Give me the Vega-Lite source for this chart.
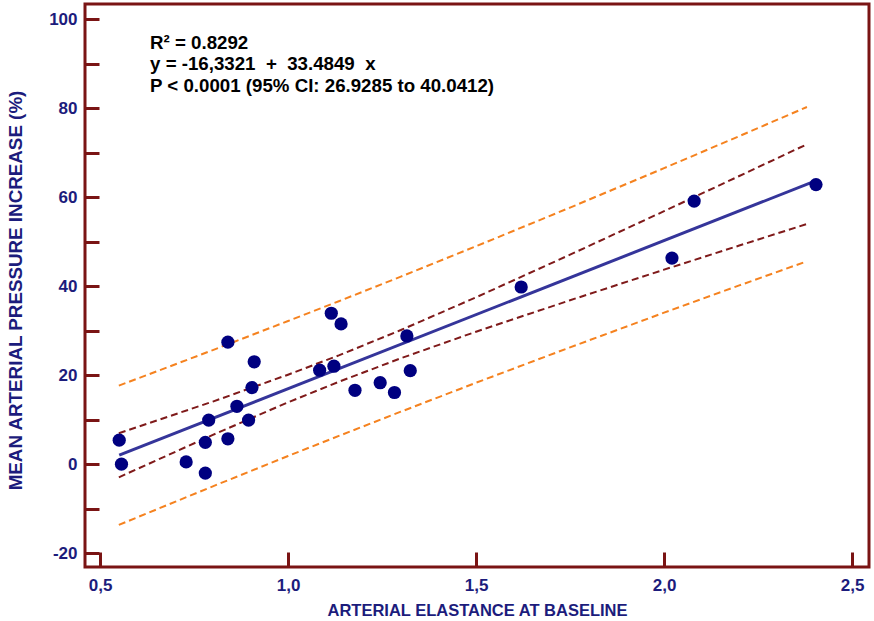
{
  "$schema": "https://vega.github.io/schema/vega-lite/v6.json",
  "width": 784,
  "height": 563,
  "autosize": "none",
  "padding": {"left": 85, "top": 4, "right": 5, "bottom": 54},
  "background": "white",
  "config": {
    "view": {"stroke": "#7a1414", "strokeWidth": 3},
    "axis": {
      "domain": false,
      "grid": false,
      "labelFont": "Liberation Sans",
      "labelFontWeight": "bold",
      "labelFontSize": 17,
      "labelColor": "#1c1c7c",
      "titleFont": "Liberation Sans",
      "titleFontWeight": "bold",
      "titleColor": "#1c1c7c",
      "tickColor": "#7a1414",
      "tickWidth": 3
    }
  },
  "datasets": {
    "points": [
      {"elastance": 0.551, "map": 5.4},
      {"elastance": 0.557, "map": 0.0},
      {"elastance": 0.729, "map": 0.5},
      {"elastance": 0.780, "map": -2.0},
      {"elastance": 0.780, "map": 4.9},
      {"elastance": 0.789, "map": 9.9},
      {"elastance": 0.840, "map": 5.7},
      {"elastance": 0.840, "map": 27.4},
      {"elastance": 0.864, "map": 13.0},
      {"elastance": 0.895, "map": 9.9},
      {"elastance": 0.904, "map": 17.2},
      {"elastance": 0.910, "map": 23.0},
      {"elastance": 1.084, "map": 21.1},
      {"elastance": 1.122, "map": 22.0},
      {"elastance": 1.115, "map": 33.9},
      {"elastance": 1.141, "map": 31.5},
      {"elastance": 1.178, "map": 16.6},
      {"elastance": 1.245, "map": 18.3},
      {"elastance": 1.283, "map": 16.1},
      {"elastance": 1.316, "map": 28.8},
      {"elastance": 1.325, "map": 21.0},
      {"elastance": 1.620, "map": 39.8},
      {"elastance": 2.021, "map": 46.3},
      {"elastance": 2.080, "map": 59.1},
      {"elastance": 2.404, "map": 62.8}
    ],
    "fit": [
      {"elastance": 0.551, "map": 2.02},
      {"elastance": 2.396, "map": 63.4}
    ],
    "bands": [
      {"band": "CI upper", "elastance": 0.55, "map": 6.95},
      {"band": "CI upper", "elastance": 0.80, "map": 14.06},
      {"band": "CI upper", "elastance": 1.00, "map": 20.10},
      {"band": "CI upper", "elastance": 1.135, "map": 24.44},
      {"band": "CI upper", "elastance": 1.30, "map": 30.13},
      {"band": "CI upper", "elastance": 1.50, "map": 37.48},
      {"band": "CI upper", "elastance": 1.75, "map": 47.06},
      {"band": "CI upper", "elastance": 2.00, "map": 56.83},
      {"band": "CI upper", "elastance": 2.20, "map": 64.73},
      {"band": "CI upper", "elastance": 2.38, "map": 71.86},
      {"band": "CI lower", "elastance": 0.55, "map": -2.95},
      {"band": "CI lower", "elastance": 0.80, "map": 6.58},
      {"band": "CI lower", "elastance": 1.00, "map": 13.90},
      {"band": "CI lower", "elastance": 1.135, "map": 18.50},
      {"band": "CI lower", "elastance": 1.30, "map": 23.79},
      {"band": "CI lower", "elastance": 1.50, "map": 29.76},
      {"band": "CI lower", "elastance": 1.75, "map": 36.82},
      {"band": "CI lower", "elastance": 2.00, "map": 43.69},
      {"band": "CI lower", "elastance": 2.20, "map": 49.11},
      {"band": "CI lower", "elastance": 2.38, "map": 53.96},
      {"band": "PI upper", "elastance": 0.55, "map": 17.64},
      {"band": "PI upper", "elastance": 0.80, "map": 25.62},
      {"band": "PI upper", "elastance": 1.00, "map": 32.16},
      {"band": "PI upper", "elastance": 1.135, "map": 36.60},
      {"band": "PI upper", "elastance": 1.30, "map": 42.13},
      {"band": "PI upper", "elastance": 1.50, "map": 48.95},
      {"band": "PI upper", "elastance": 1.75, "map": 57.64},
      {"band": "PI upper", "elastance": 2.00, "map": 66.49},
      {"band": "PI upper", "elastance": 2.20, "map": 73.69},
      {"band": "PI upper", "elastance": 2.38, "map": 80.24},
      {"band": "PI lower", "elastance": 0.55, "map": -13.64},
      {"band": "PI lower", "elastance": 0.80, "map": -4.98},
      {"band": "PI lower", "elastance": 1.00, "map": 1.84},
      {"band": "PI lower", "elastance": 1.135, "map": 6.34},
      {"band": "PI lower", "elastance": 1.30, "map": 11.79},
      {"band": "PI lower", "elastance": 1.50, "map": 18.29},
      {"band": "PI lower", "elastance": 1.75, "map": 26.24},
      {"band": "PI lower", "elastance": 2.00, "map": 34.03},
      {"band": "PI lower", "elastance": 2.20, "map": 40.15},
      {"band": "PI lower", "elastance": 2.38, "map": 45.58}
    ],
    "notes": [
      {"elastance": 0.633, "map": 93.3, "label": "R² = 0.8292"},
      {"elastance": 0.633, "map": 88.5, "label": "y = -16,3321 \u00a0+ \u00a033.4849 \u00a0x"},
      {"elastance": 0.633, "map": 83.6, "label": "P < 0.0001 (95% CI: 26.9285 to 40.0412)"}
    ]
  },
  "encoding": {
    "x": {
      "field": "elastance",
      "type": "quantitative",
      "scale": {"domain": [0.46, 2.545], "nice": false, "zero": false},
      "axis": {
        "title": "ARTERIAL ELASTANCE AT BASELINE",
        "titleFontSize": 16.5,
        "values": [0.5, 1, 1.5, 2, 2.5],
        "tickSize": -15,
        "labelPadding": 25,
        "labelExpr": "replace(format(datum.value, '.1f'), '.', ',')",
        "titleX": 392,
        "titleY": 43,
        "titleBaseline": "middle",
        "titleAlign": "center"
      }
    },
    "y": {
      "field": "map",
      "type": "quantitative",
      "scale": {"domain": [-23.1, 103.37], "nice": false, "zero": false},
      "axis": {
        "title": "MEAN ARTERIAL PRESSURE INCREASE (%)",
        "titleFontSize": 18.8,
        "values": [-20, -10, 0, 10, 20, 30, 40, 50, 60, 70, 80, 90, 100],
        "tickSize": -14,
        "labelPadding": 22,
        "labelExpr": "datum.value % 20 === 0 ? replace(format(datum.value, 'd'), '\u2212', '-') : ''",
        "titleX": -70,
        "titleY": 286,
        "titleBaseline": "middle",
        "titleAlign": "center",
        "encode": {
          "ticks": {"update": {"x2": {"signal": "datum.value % 20 === 0 ? 14 : 7"}}}
        }
      }
    }
  },
  "layer": [
    {
      "data": {"name": "bands"},
      "transform": [{"filter": "indexof(datum.band, 'PI') === 0"}],
      "mark": {"type": "line", "color": "#f5821f", "strokeWidth": 2, "strokeDash": [7, 4]},
      "encoding": {"detail": {"field": "band"}}
    },
    {
      "data": {"name": "bands"},
      "transform": [{"filter": "indexof(datum.band, 'CI') === 0"}],
      "mark": {"type": "line", "color": "#7f1a1a", "strokeWidth": 2, "strokeDash": [7, 4]},
      "encoding": {"detail": {"field": "band"}}
    },
    {
      "data": {"name": "fit"},
      "mark": {"type": "line", "color": "#35359a", "strokeWidth": 3},
      "encoding": {}
    },
    {
      "data": {"name": "points"},
      "mark": {"type": "circle", "color": "#000080", "opacity": 1, "size": 175},
      "encoding": {}
    },
    {
      "data": {"name": "notes"},
      "mark": {"type": "text", "align": "left", "baseline": "alphabetic", "font": "Liberation Sans", "fontWeight": "bold", "fontSize": 18.7, "color": "#000000"},
      "encoding": {"text": {"field": "label"}}
    }
  ]
}
